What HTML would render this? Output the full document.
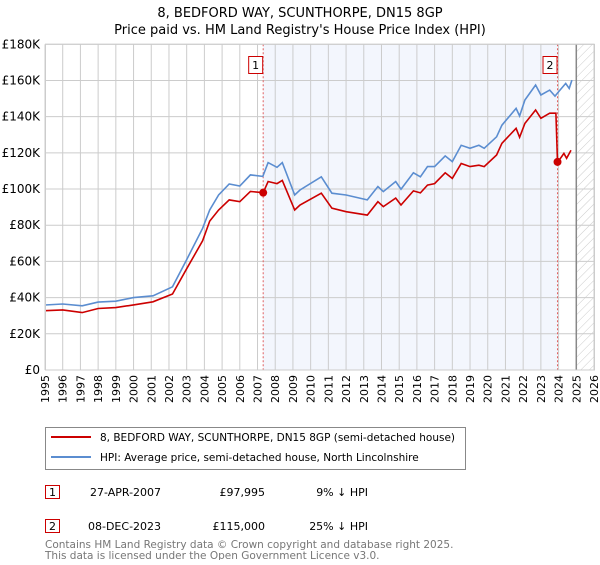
<!DOCTYPE html>
<html><head><meta charset="utf-8"><style>
body{margin:0;background:#fff;font-family:"Liberation Sans","DejaVu Sans",sans-serif;}
svg text{font-family:"DejaVu Sans","Liberation Sans",sans-serif;}
</style></head><body>
<svg id="chart" width="600" height="560" xmlns="http://www.w3.org/2000/svg">
<defs>
<pattern id="hatch" patternUnits="userSpaceOnUse" width="6" height="6" patternTransform="rotate(45)">
<line x1="0" y1="0" x2="0" y2="6" stroke="#ccc" stroke-width="1"/></pattern>
</defs>
<text x="300" y="17" text-anchor="middle" font-size="13">8, BEDFORD WAY, SCUNTHORPE, DN15 8GP</text>
<text x="300" y="34" text-anchor="middle" font-size="13">Price paid vs. HM Land Registry's House Price Index (HPI)</text>
<g id="plot"></g>
<g>
<rect x="45.5" y="427.5" width="420" height="42" fill="#fff" stroke="#888"/>
<line x1="51" y1="437" x2="91" y2="437" stroke="#cc0000" stroke-width="2"/>
<text x="100" y="441" font-size="10.5">8, BEDFORD WAY, SCUNTHORPE, DN15 8GP (semi-detached house)</text>
<line x1="51" y1="457" x2="91" y2="457" stroke="#5b8dd0" stroke-width="2"/>
<text x="100" y="461" font-size="10.5">HPI: Average price, semi-detached house, North Lincolnshire</text>
</g>
<g font-size="11">
<rect x="45.5" y="485.5" width="14" height="13" fill="#fff" stroke="#cc0000"/>
<text x="52.5" y="496" text-anchor="middle">1</text>
<text x="90" y="496">27-APR-2007</text>
<text x="265" y="496" text-anchor="end">£97,995</text>
<text x="368" y="496" text-anchor="end">9% ↓ HPI</text>
<rect x="45.5" y="519.5" width="14" height="13" fill="#fff" stroke="#cc0000"/>
<text x="52.5" y="530" text-anchor="middle">2</text>
<text x="88" y="530">08-DEC-2023</text>
<text x="265" y="530" text-anchor="end">£115,000</text>
<text x="368" y="530" text-anchor="end">25% ↓ HPI</text>
</g>
<g font-size="10.5" fill="#777">
<text x="45" y="548">Contains HM Land Registry data © Crown copyright and database right 2025.</text>
<text x="45" y="559">This data is licensed under the Open Government Licence v3.0.</text>
</g>
</svg>
<script>
const hpiYears=[1995,1996,1997.1,1998,1999,2000,2001.1,2002.2,2003,2003.9,2004.3,2004.8,2005.4,2006,2006.6,2007.3,2007.6,2008.1,2008.4,2009.1,2009.4,2010.6,2011.2,2012.0,2013.2,2013.8,2014.1,2014.8,2015.1,2015.8,2016.2,2016.6,2017.0,2017.6,2018.0,2018.5,2019.0,2019.5,2019.8,2020.5,2020.8,2021.6,2021.8,2022.1,2022.7,2023.0,2023.5,2023.8,2024.0,2024.4,2024.6,2024.75];
const hpiValues=[35.9,36.5,35.5,37.5,38,40,41,46,61,78.3,88.4,96.7,102.8,101.7,107.8,107,114.6,112,114.6,96.7,99.5,106.8,97.7,96.7,94,101.4,98.6,104.2,99.9,109,106.8,112.4,112.4,118.3,115.2,124.2,122.5,124.2,122.5,128.9,135.3,144.6,140.4,149.2,157.5,152,154.7,151.4,153.8,158.4,155.6,160.2];
const priceYears=[1995,1996,1997.1,1998,1999,2000,2001.1,2002.2,2003,2003.9,2004.3,2004.8,2005.4,2006,2006.6,2007.32,2007.6,2008.1,2008.4,2009.1,2009.4,2010.6,2011.2,2012.0,2013.2,2013.8,2014.1,2014.8,2015.1,2015.8,2016.2,2016.6,2017.0,2017.6,2018.0,2018.5,2019.0,2019.5,2019.8,2020.5,2020.8,2021.6,2021.8,2022.1,2022.7,2023.0,2023.5,2023.85,2023.94,2024.0,2024.3,2024.45,2024.7];
const priceValues=[32.8,33.2,31.7,34,34.5,36,37.7,42,56,71.4,82.3,88.4,94,93,98.7,97.995,104.2,103,104.8,88.4,91.2,97.7,89.4,87.5,85.6,93,90.3,95,91.2,99,97.9,102.2,103,109,105.9,114.1,112.4,113.2,112.4,118.8,125.3,133.6,128.6,136.3,143.7,139.1,141.9,141.9,115,115.5,119.7,117,121.4];
const saleYears=[2007.32,2023.94];
const saleValues=[97.995,115];
const saleLabels=["1","2"];
const yTicks=[0,20,40,60,80,100,120,140,160,180];
const yTickLabels=["£0","£20K","£40K","£60K","£80K","£100K","£120K","£140K","£160K","£180K"];
const xTicks=[1995,1996,1997,1998,1999,2000,2001,2002,2003,2004,2005,2006,2007,2008,2009,2010,2011,2012,2013,2014,2015,2016,2017,2018,2019,2020,2021,2022,2023,2024,2025,2026];

const L=45,R=594,T=44.3,B=370,x0=1995,x1=2026,yMax=180;
const X=y=>L+(y-x0)/(x1-x0)*(R-L);
const Y=v=>B-v/yMax*(B-T);
const NS="http://www.w3.org/2000/svg";
const g=document.getElementById('plot');
function mk(tag,attrs,parent){const e=document.createElementNS(NS,tag);for(const k in attrs)e.setAttribute(k,attrs[k]);(parent||g).appendChild(e);return e;}

let e=mk('rect',{x:L,y:T,width:R-L,height:B-T,fill:'#fff'});


e=mk('rect',{x:X(saleYears[0]),y:T,width:X(saleYears[1])-X(saleYears[0]),height:B-T,fill:'#f3f6fd'});


e=mk('rect',{x:X(2025),y:T,width:R-X(2025),height:B-T,fill:'url(#hatch)'});



xTicks.forEach(t=>{
  let l=mk('line',{x1:X(t),x2:X(t),y1:T,y2:B,stroke:'#ccc','stroke-width':1});
  
  
  let tx=mk('text',{x:0,y:0,'font-size':11,'text-anchor':'end',transform:`translate(${X(t)+4},${B+5}) rotate(-90)`});
  tx.textContent=t;
  
  
});
yTicks.forEach((t,i)=>{
  let l=mk('line',{x1:L,x2:R,y1:Y(t),y2:Y(t),stroke:'#ccc','stroke-width':1});
  
  
  let tx=mk('text',{x:40,y:Y(t)+4,'font-size':12,'text-anchor':'end'});
  tx.textContent=yTickLabels[i];
  
  
});
e=mk('line',{x1:X(2025),x2:X(2025),y1:T,y2:B,stroke:'#888','stroke-width':1.5});



saleYears.forEach((s,i)=>{
  let l=mk('line',{x1:X(s),x2:X(s),y1:T,y2:B,stroke:'#e06060','stroke-width':1,'stroke-dasharray':'2,2'});
  
  
});

function pathOf(xs,vs){return xs.map((t,i)=>(i?'L':'M')+X(t).toFixed(1)+','+Y(vs[i]).toFixed(1)).join('');}
e=mk('path',{d:pathOf(hpiYears,hpiValues),fill:'none',stroke:'#5b8dd0','stroke-width':1.6});


e=mk('path',{d:pathOf(priceYears,priceValues),fill:'none',stroke:'#cc0000','stroke-width':1.6});



saleYears.forEach((s,i)=>{
  let c=mk('circle',{cx:X(s),cy:Y(saleValues[i]),r:4,fill:'#cc0000'});
  
  
  let r=mk('rect',{x:X(s)-14.5,y:56.5,width:14,height:17,fill:'#fff',stroke:'#cc0000'});
  
  
  let t=mk('text',{x:X(s)-7.5,y:69,'font-size':11,'text-anchor':'middle'});
  t.textContent=saleLabels[i];
  
  
});
e=mk('rect',{x:L+0.5,y:T,width:R-L,height:B-T,fill:'none',stroke:'#ccc'});


</script>
</body></html>
